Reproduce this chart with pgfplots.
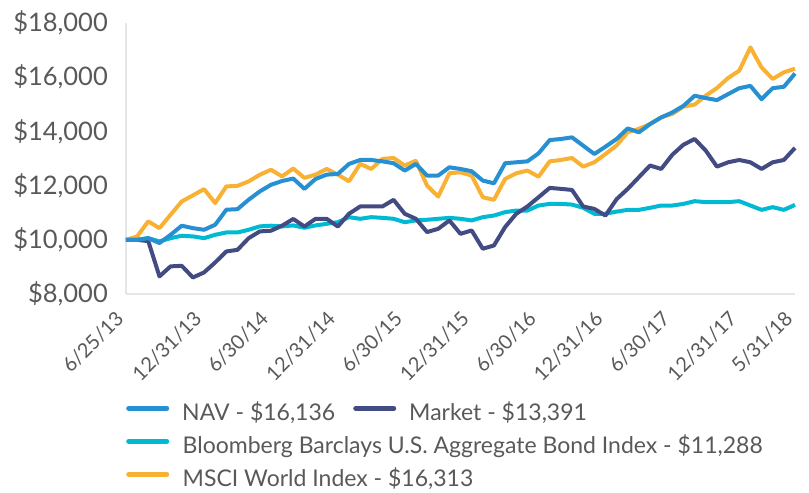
\documentclass[border=0pt]{standalone}
\usepackage{pgfplots}
\usepackage{pgfplotstable}
\pgfplotsset{compat=1.18}
\usepackage{fontspec}
\setmainfont{Lato}
\definecolor{navc}{HTML}{2690D2}
\definecolor{mktc}{HTML}{434C82}
\definecolor{bondc}{HTML}{00BAD3}
\definecolor{mscic}{HTML}{F9B133}
\definecolor{txtc}{HTML}{595959}
\definecolor{axc}{HTML}{E6E6E6}
\pgfplotstableread{
k nav mkt bond msci
0 10000 10000 10000 10000
1 10000 10000 10000 10125
2 10060 9950 10060 10680
3 9880 8650 9940 10430
4 10185 9020 10060 10925
5 10520 9040 10150 11415
6 10430 8610 10125 11640
7 10370 8795 10060 11870
8 10555 9165 10185 11355
9 11110 9570 10270 11970
10 11130 9630 10270 11990
11 11480 10060 10370 12155
12 11785 10310 10495 12400
13 12030 10335 10520 12585
14 12170 10520 10495 12340
15 12260 10770 10530 12630
16 11880 10490 10445 12285
17 12245 10775 10530 12405
18 12405 10775 10590 12615
19 12430 10490 10650 12405
20 12800 10960 10835 12160
21 12945 11230 10775 12800
22 12945 11230 10835 12615
23 12895 11230 10810 12985
24 12825 11475 10775 13020
25 12555 10960 10650 12740
26 12800 10775 10715 12920
27 12370 10285 10740 12000
28 12370 10405 10775 11595
29 12675 10715 10810 12455
30 12615 10220 10775 12490
31 12530 10345 10715 12370
32 12185 9670 10835 11570
33 12085 9790 10895 11475
34 12825 10470 11020 12245
35 12860 10960 11080 12455
36 12895 11230 11080 12555
37 13190 11570 11265 12330
38 13680 11915 11325 12895
39 13720 11880 11325 12945
40 13780 11840 11300 13020
41 13475 11230 11180 12700
42 13165 11140 10960 12860
43 13435 10895 10960 13165
44 13720 11500 11040 13480
45 14110 11880 11105 13970
46 13965 12310 11105 14095
47 14270 12740 11180 14275
48 14515 12615 11265 14520
49 14700 13140 11265 14645
50 14945 13510 11325 14915
51 15315 13720 11425 14990
52 15230 13290 11390 15320
53 15155 12700 11390 15600
54 15375 12860 11390 15970
55 15595 12945 11425 16240
56 15680 12860 11265 17100
57 15190 12615 11105 16360
58 15595 12860 11205 15935
59 15645 12945 11105 16180
60 16136 13391 11288 16313
}\datatable
\begin{document}
\begin{tikzpicture}
\path[use as bounding box] (-126bp,-199bp) rectangle (683bp,294bp);
\begin{axis}[
  at={(0,0)}, anchor=south west,
  scale only axis,
  width=669bp, height=271bp,
  xmin=0, xmax=60, ymin=8000, ymax=18000,
  clip=false,
  scaled y ticks=false,
  axis x line*=bottom, axis y line*=left,
  axis line style={draw=axc, line width=2bp},
  major tick length=0pt,
  xtick={0,7,13,19,25,31,37,43,49,55,60},
  xticklabels={6/25/13,12/31/13,6/30/14,12/31/14,6/30/15,12/31/15,6/30/16,12/31/16,6/30/17,12/31/17,5/31/18},
  xticklabel style={font=\fontsize{20bp}{23bp}\selectfont, text=txtc, inner sep=0pt, yshift=-21bp, xshift=-6bp, rotate=45, anchor=east},
  ytick={8000,10000,12000,14000,16000,18000},
  yticklabels={{\$8,000},{\$10,000},{\$12,000},{\$14,000},{\$16,000},{\$18,000}},
  yticklabel style={font=\fontsize{25.5bp}{29bp}\selectfont, text=txtc, inner sep=0pt, anchor=east, xshift=-18bp},
  legend columns=2,
  legend cell align=left,
  legend style={at={(axis description cs:0,-0.41)}, anchor=north west, draw=none, fill=none,
    font=\fontsize{23bp}{26bp}\selectfont, text=txtc, inner sep=0pt,
    nodes={inner sep=0pt, text height=15bp, text depth=5bp},
    row sep=13bp,
    /tikz/every odd column/.append style={column sep=13bp},
    /tikz/every even column/.append style={column sep=18bp}},
  legend image code/.code={\draw[#1, line width=5bp, line cap=round] (2.5bp,7bp) -- (40.5bp,7bp);},
  every axis plot/.append style={line width=4bp, line join=round},
]
\addplot[bondc, forget plot] table[x=k, y=bond] {\datatable};
\addplot[mscic, forget plot] table[x=k, y=msci] {\datatable};
\addplot[mktc, forget plot] table[x=k, y=mkt] {\datatable};
\addplot[navc, forget plot] table[x=k, y=nav] {\datatable};
\addlegendimage{navc}
\addlegendentry{NAV - \$16,136}
\addlegendimage{mktc}
\addlegendentry{Market - \$13,391}
\addlegendimage{bondc}
\addlegendentry{\makebox[0pt][l]{Bloomberg Barclays U.S. Aggregate Bond Index - \$11,288}}
\addlegendimage{empty legend}
\addlegendentry{}
\addlegendimage{mscic}
\addlegendentry{\makebox[0pt][l]{MSCI World Index - \$16,313}}
\end{axis}
\end{tikzpicture}
\end{document}
